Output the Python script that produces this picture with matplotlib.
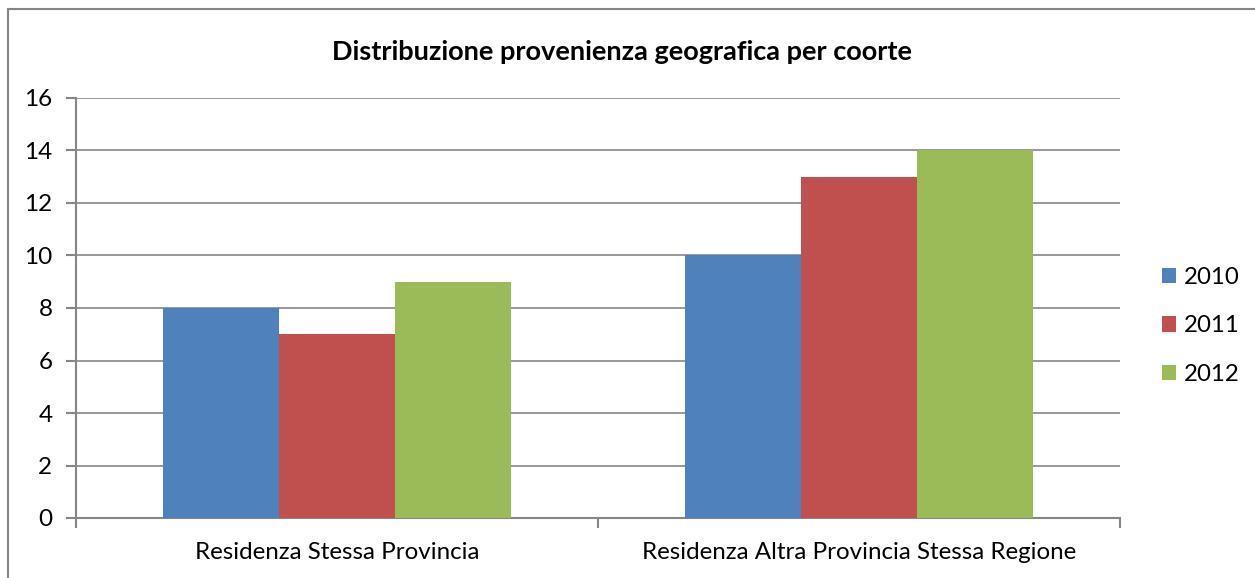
import matplotlib
matplotlib.use("Agg")
import matplotlib.pyplot as plt
import numpy as np
from matplotlib.lines import Line2D

categories = ["Residenza Stessa Provincia", "Residenza Altra Provincia Stessa Regione"]
years = ["2010", "2011", "2012"]
values_2010 = [8, 10]
values_2011 = [7, 13]
values_2012 = [9, 14]
colors = ["#4F81BD", "#C0504D", "#9BBB59"]
grid_color = "#868686"

plt.rcParams["font.family"] = ["Lato", "DejaVu Sans"]

W, H = 1255, 578
fig = plt.figure(figsize=(W / 100, H / 100), dpi=100)
ax = fig.add_axes([76 / W, 1 - 518 / H, (1120 - 76) / W, (518 - 98) / H])

x = np.arange(len(categories))
width = 0.2216
for i, (label, vals) in enumerate(zip(years, [values_2010, values_2011, values_2012])):
    ax.bar(x + (i - 1) * width, vals, width, color=colors[i], label=label, zorder=3)

ax.set_xlim(-0.5, 1.5)
ax.set_ylim(0, 16)
ax.set_yticks(range(0, 17, 2))
ax.set_xticks(x)
ax.set_xticklabels(categories, fontsize=17.4)
ax.tick_params(axis="y", labelsize=17.5, length=7, color=grid_color, width=1.5, pad=10)
ax.tick_params(axis="x", length=0, pad=17)
ax.set_xticks([-0.5, 0.5, 1.5], minor=True)
ax.tick_params(axis="x", which="minor", length=7, color=grid_color, width=1.5)
ax.grid(axis="y", color=grid_color, linewidth=1.2, zorder=0)
for side in ["top", "right"]:
    ax.spines[side].set_visible(False)
for side in ["left", "bottom"]:
    ax.spines[side].set_color(grid_color)
    ax.spines[side].set_linewidth(1.5)

fig.text(622 / W, 1 - 52 / H, "Distribuzione provenienza geografica per coorte",
         ha="center", va="center", fontsize=19.5, fontweight="bold")

leg = ax.legend(loc="center left", bbox_to_anchor=(1162 / W, 1 - 326 / H),
                bbox_transform=fig.transFigure, frameon=False, fontsize=17.3,
                handlelength=0.6, handleheight=0.6, handletextpad=0.3, labelspacing=1.15,
                borderaxespad=0, borderpad=0)

# outer chart border (right and bottom cut off)
fig.add_artist(Line2D([8 / W, 8 / W], [1 - 9 / H, 0], transform=fig.transFigure,
                      color=grid_color, linewidth=1.5))
fig.add_artist(Line2D([8 / W, 1], [1 - 9 / H, 1 - 9 / H], transform=fig.transFigure,
                      color=grid_color, linewidth=1.5))

fig.savefig("out.png", dpi=100)
